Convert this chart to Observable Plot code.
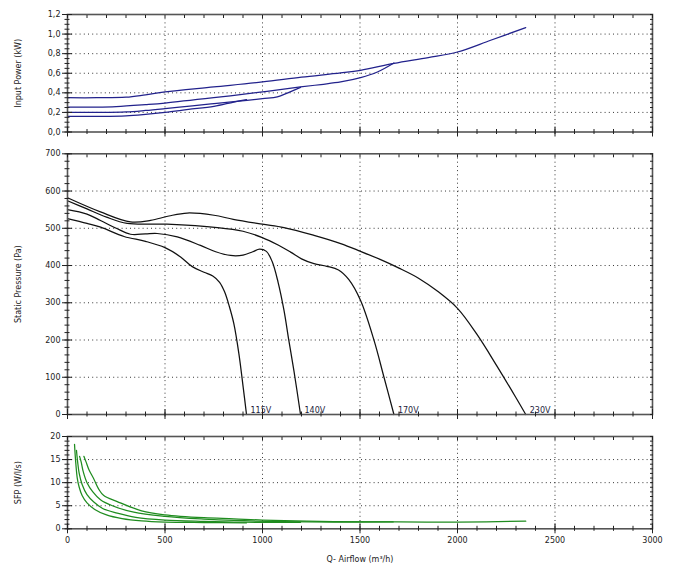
<!DOCTYPE html>
<html><head><meta charset="utf-8">
<script src="https://cdn.jsdelivr.net/npm/d3@7"></script>
<script src="https://cdn.jsdelivr.net/npm/@observablehq/plot@0.6"></script>
<style>
body{margin:0;background:#fff;}
#chart{width:680px;height:571px;position:relative;background:#fff;}
#chart svg{display:block;}
</style></head><body><div id="chart"></div>
<script>
// ---------- data ----------
const voltages = ["115V", "140V", "170V", "230V"];

// Static pressure (Pa) vs airflow (m3/h)
const pressQ115 = [0, 100, 170, 290, 400, 500, 580, 640, 700, 745, 780, 805, 830, 853, 879, 901, 918];
const press115  = [526, 513, 503, 478, 465, 448, 423, 397, 382, 372, 355, 330, 290, 244, 163, 73, 0];
const pressQ140 = [0, 100, 169, 250, 323, 400, 460, 563, 682, 760, 836, 900, 950, 985, 1020, 1050, 1080, 1110, 1135, 1161, 1195];
const press140  = [550, 538, 521, 500, 484, 485, 486, 477, 454, 437, 427, 428, 437, 444, 438, 410, 355, 280, 199, 118, 0];
const pressQ170 = [0, 100, 200, 306, 510, 768, 900, 999, 1080, 1144, 1200, 1264, 1330, 1390, 1443, 1503, 1572, 1623, 1674];
const press170  = [574, 552, 530, 513, 511, 502, 492, 475, 455, 436, 418, 405, 398, 388, 362, 306, 199, 100, 0];
const pressQ230 = [0, 169, 323, 426, 520, 614, 751, 850, 999, 1110, 1264, 1401, 1503, 1600, 1700, 1800, 1900, 2000, 2100, 2200, 2300, 2350];
const press230  = [582, 544, 517, 521, 533, 541, 535, 524, 511, 502, 481, 459, 438, 417, 393, 366, 330, 285, 215, 132, 45, 0];

// Input power (kW)
const powerQ115 = [0, 150, 300, 400, 500, 620, 751, 853, 918];
const power115  = [0.16, 0.16, 0.165, 0.18, 0.20, 0.23, 0.262, 0.306, 0.33];
const powerQ140 = [0, 150, 300, 400, 500, 640, 751, 853, 1000, 1076, 1130, 1195];
const power140  = [0.20, 0.20, 0.205, 0.22, 0.239, 0.268, 0.29, 0.31, 0.341, 0.358, 0.40, 0.455];
const powerQ170 = [0, 150, 250, 400, 500, 750, 1000, 1195, 1300, 1401, 1503, 1589, 1674];
const power170  = [0.255, 0.255, 0.26, 0.28, 0.296, 0.35, 0.409, 0.46, 0.485, 0.511, 0.555, 0.613, 0.705];
const powerQ230 = [0, 150, 300, 400, 500, 750, 1000, 1200, 1401, 1503, 1674, 1850, 2000, 2170, 2350];
const power230  = [0.35, 0.35, 0.355, 0.38, 0.409, 0.46, 0.511, 0.56, 0.603, 0.63, 0.70, 0.76, 0.817, 0.937, 1.066];

// SFP (W/l/s)
const sfpQ115 = [36, 42, 50, 60, 75, 100, 140, 200, 280, 380, 500, 700, 918];
const sfp115  = [18.3, 14.5, 11.0, 9.0, 7.2, 5.6, 4.2, 3.0, 2.2, 1.7, 1.45, 1.35, 1.3];
const sfpQ140 = [46, 52, 60, 75, 100, 135, 180, 255, 350, 500, 700, 853, 1000, 1195];
const sfp140  = [17.0, 14.5, 12.0, 9.6, 7.4, 5.8, 4.4, 3.4, 2.5, 1.9, 1.6, 1.45, 1.4, 1.4];
const sfpQ170 = [62, 70, 80, 100, 130, 169, 230, 340, 500, 700, 853, 1100, 1365, 1670];
const sfp170  = [15.7, 14.5, 12.5, 10.0, 8.0, 6.3, 5.0, 3.6, 2.7, 2.1, 1.8, 1.55, 1.45, 1.5];
const sfpQ230 = [84, 95, 110, 135, 160, 186, 255, 380, 500, 700, 853, 1000, 1365, 1700, 2000, 2350];
const sfp230  = [15.7, 14.5, 12.8, 10.8, 8.6, 7.2, 5.9, 3.9, 3.03, 2.4, 2.17, 1.9, 1.58, 1.5, 1.45, 1.65];

// axis ticks
const xTicks = [0, 500, 1000, 1500, 2000, 2500, 3000];
const xMinor = d3.range(0, 3001, 100);
const powerTicks = [0, 0.2, 0.4, 0.6, 0.8, 1.0, 1.2];
const powerMinor = d3.range(0, 1.2001, 0.05);
const pressTicks = [0, 100, 200, 300, 400, 500, 600, 700];
const pressMinor = d3.range(0, 701, 20);
const sfpTicks = [0, 5, 10, 15, 20];
const sfpMinor = d3.range(0, 20.001, 1);

// ---------- build tables ----------
function series(name, qs, vs) { return qs.map((q, i) => ({voltage: name, q, v: vs[i]})); }
const pressData = [
  ...series(voltages[0], pressQ115, press115), ...series(voltages[1], pressQ140, press140),
  ...series(voltages[2], pressQ170, press170), ...series(voltages[3], pressQ230, press230)];
const powerData = [
  ...series(voltages[0], powerQ115, power115), ...series(voltages[1], powerQ140, power140),
  ...series(voltages[2], powerQ170, power170), ...series(voltages[3], powerQ230, power230)];
const sfpData = [
  ...series(voltages[0], sfpQ115, sfp115), ...series(voltages[1], sfpQ140, sfp140),
  ...series(voltages[2], sfpQ170, sfp170), ...series(voltages[3], sfpQ230, sfp230)];
const endLabels = voltages.map(v => { const s = pressData.filter(d => d.voltage === v); return s[s.length - 1]; });

const FONT = "DejaVu Sans";
const CURVE = "catmull-rom";

function panel({height, marginTop, marginBottom, yDomain, yMajor, yMinorT, yFormat, yLabel, marks, xLabels}) {
  const grid = {stroke: "#222", strokeOpacity: 0.9, strokeDasharray: "1,3.2", strokeWidth: 1};
  const tick = {fill: "none", label: null, stroke: "#222"};
  return Plot.plot({
    width: 680, height, marginLeft: 67, marginRight: 28, marginTop, marginBottom,
    style: {fontFamily: FONT, fontSize: "8px", color: "#222", background: "#fff", overflow: "visible"},
    x: {domain: [0, 3000]},
    y: {domain: yDomain},
    marks: [
      Plot.gridX(xTicks.slice(1, -1), grid),
      Plot.gridY(yMajor.slice(1, -1), grid),
      ...marks,
      Plot.frame({stroke: "#555", strokeWidth: 1.6}),
      Plot.axisY(yMinorT, {anchor: "left", tickSize: 5, dx: 2.5, ...tick}),
      Plot.axisY(yMajor, {anchor: "left", tickSize: 10, dx: 5, ...tick}),
      Plot.axisY(yMajor, {anchor: "left", tickSize: 0, tickPadding: 7, tickFormat: yFormat,
        label: yLabel, labelAnchor: "center", labelArrow: "none", labelOffset: 52}),
      Plot.axisY(yMinorT, {anchor: "right", tickSize: 3, dx: -3, ...tick}),
      Plot.axisX(xMinor, {anchor: "top", tickSize: 3, dy: 3, ...tick}),
      Plot.axisX(xMinor, {anchor: "bottom", tickSize: 5, dy: -2.5, ...tick}),
      Plot.axisX(xTicks, {anchor: "bottom", tickSize: 10, dy: -5, ...tick}),
      xLabels ? Plot.axisX(xTicks, {anchor: "bottom", tickSize: 0, tickPadding: 9, tickFormat: d => String(d),
        label: "Q- Airflow (m³/h)", labelAnchor: "center", labelArrow: "none", labelOffset: 33}) : null
    ]
  });
}

const root = document.getElementById("chart");

root.append(panel({
  height: 140, marginTop: 14, marginBottom: 8.5,
  yDomain: [0, 1.2], yMajor: powerTicks, yMinorT: powerMinor,
  yFormat: d => d.toFixed(1).replace(".", ","), yLabel: "Input Power (kW)",
  marks: [Plot.line(powerData, {x: "q", y: "v", z: "voltage", stroke: "#22228c", strokeWidth: 1.25, curve: CURVE})]
}));

root.append(panel({
  height: 285, marginTop: 13.3, marginBottom: 11,
  yDomain: [0, 700], yMajor: pressTicks, yMinorT: pressMinor,
  yFormat: d => String(d), yLabel: "Static Pressure (Pa)",
  marks: [
    Plot.line(pressData, {x: "q", y: "v", z: "voltage", stroke: "#111", strokeWidth: 1.25, curve: CURVE}),
    Plot.text(endLabels, {x: "q", y: "v", text: "voltage", dx: 4, dy: -4, textAnchor: "start", fill: "#1c1c3c", fontSize: 8})
  ]
}));

root.append(panel({
  height: 146, marginTop: 11, marginBottom: 42.7,
  yDomain: [0, 20], yMajor: sfpTicks, yMinorT: sfpMinor,
  yFormat: d => String(d), yLabel: "SFP (W/l/s)",
  marks: [Plot.line(sfpData, {x: "q", y: "v", z: "voltage", stroke: "#1f8c1f", strokeWidth: 1.25, curve: CURVE})],
  xLabels: true
}));
</script></body></html>
